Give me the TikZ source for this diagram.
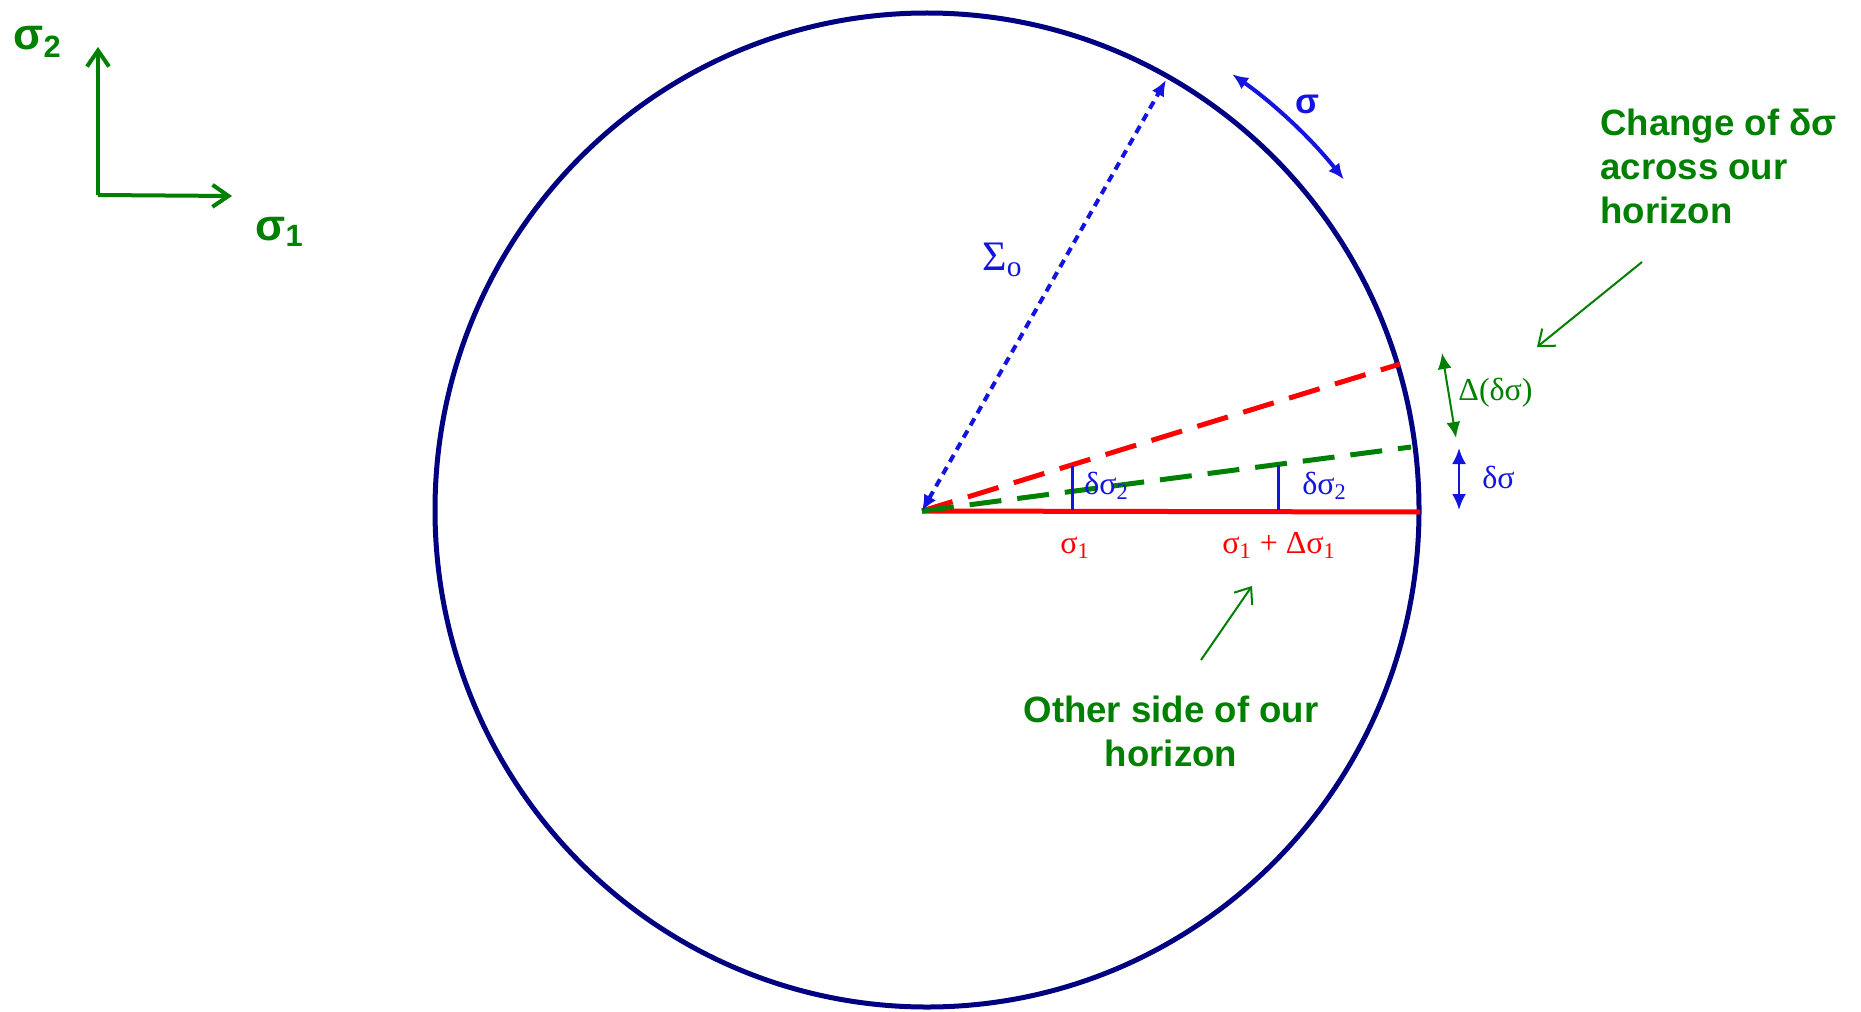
\documentclass[tikz,border=0pt]{standalone}
\usepackage{fontspec}
\setmainfont{Liberation Serif}
\setsansfont{Liberation Sans}
\usetikzlibrary{positioning,calc,arrows.meta}

\definecolor{ringnavy}{RGB}{0,0,128}
\definecolor{hgreen}{RGB}{0,128,0}
\definecolor{hblue}{RGB}{20,20,225}
\definecolor{hred}{RGB}{255,0,0}

\begin{document}
\begin{tikzpicture}[
  x=0.5pt, y=-0.5pt,
  >={Latex[length=8pt,width=7pt]},
  every node/.style={inner sep=0pt},
  note/.style={font=\sffamily\bfseries\fontsize{18.3}{22}\selectfont, text=hgreen},
  axislbl/.style={font=\sffamily\bfseries\fontsize{22}{26}\selectfont, text=hgreen, anchor=base west},
  sym/.style={font=\fontsize{16}{19}\selectfont, anchor=base west},
  pointer/.style={hgreen, line width=1pt, -{Straight Barb[length=7pt,width=11pt]}},
  axis/.style={hgreen, line width=2pt, -{Straight Barb[length=8pt,width=11pt]}},
  radial/.style={line width=2.5pt, dash pattern=on 16pt off 8pt},
  tick/.style={hblue, line width=1.5pt}
]
\useasboundingbox (0,0) rectangle (1861,1011);

% --- Axes ---
\coordinate (ax0) at (98,195);
\coordinate (ax1) at (232,196);
\coordinate (ax2) at (98,47);
\draw[axis] (ax0) -- (ax1);
\draw[axis] (ax0) -- (ax2);
\node[axislbl] (s1) at (255,240) {σ\textsubscript{1}};
\node[axislbl] (s2) at (13,50) {σ\textsubscript{2}};

% --- Horizon circle ---
\coordinate (ctr) at (927,510);
\draw[ringnavy, line width=2.5pt] (ctr) ellipse [x radius=492, y radius=497];

% --- Lines from our position out to the horizon ---
\coordinate (us) at (922,511);
\coordinate (edgeR) at (1400,364);
\coordinate (edgeG) at (1411,447);
\coordinate (edgeH) at (1420,512);
\draw[hred, line width=2.5pt] (us) -- (edgeH);
\draw[radial, hred] (us) -- (edgeR);
\draw[radial, hgreen] (us) -- (edgeG);

% --- Radius Sigma_o ---
\coordinate (rimS) at (1166,80);
\draw[hblue, line width=2pt, dash pattern=on 4pt off 3pt, <->] (us) -- (rimS);
\node[sym, text=hblue, font=\fontsize{21}{25}\selectfont] (sig0) at (982,270) {Σ\textsubscript{o}};

% --- delta sigma_2 ticks ---
\coordinate (t1b) at (1072,510);
\coordinate (t1t) at (1072,466);
\coordinate (t2b) at (1278,510);
\coordinate (t2t) at (1278,465);
\draw[tick] (t1b) -- (t1t);
\draw[tick] (t2b) -- (t2t);
\node[sym, text=hblue] (ds2a) at (1084,494) {δσ\textsubscript{2}};
\node[sym, text=hblue] (ds2b) at (1302,494) {δσ\textsubscript{2}};
\node[sym, text=hred] (pos1) at (1060,553) {σ\textsubscript{1}};
\node[sym, text=hred] (pos2) at (1222,553) {σ\textsubscript{1} + Δσ\textsubscript{1}};

% --- Spreads at the rim ---
\coordinate (dA) at (1442,353);
\coordinate (dB) at (1456,438);
\draw[hgreen, line width=1pt, <->] (dA) -- (dB);
\node[sym, text=hgreen] (ddlbl) at (1458,400) {Δ(δσ)};
\coordinate (dC) at (1459,448);
\coordinate (dD) at (1459,510);
\draw[hblue, line width=1.2pt, <->] (dC) -- (dD);
\node[sym, text=hblue] (dlbl) at (1482,488) {δσ};

% --- sigma along the rim ---
\coordinate (arcS) at ($(ctr)+(-55:532)$);
\draw[hblue, line width=2pt, <->] (arcS) arc[start angle=-55, end angle=-38.4, radius=532];
\node[font=\sffamily\bfseries\fontsize{17.5}{21}\selectfont, text=hblue, anchor=base west] (siglbl) at (1295,113) {σ};

% --- Notes ---
\node[note, align=left, anchor=north west] (chg) at (1600,109) {Change of δσ\\across our\\horizon};
\coordinate (chgA) at (1642,262);
\coordinate (chgB) at (1537,347);
\draw[pointer] (chgA) -- (chgB);
\node[note, align=center, anchor=north] (other) at (1171,696) {Other side of our\\horizon};
\coordinate (othA) at (1201,660);
\coordinate (othB) at (1252,586);
\draw[pointer] (othA) -- (othB);

\end{tikzpicture}
\end{document}
